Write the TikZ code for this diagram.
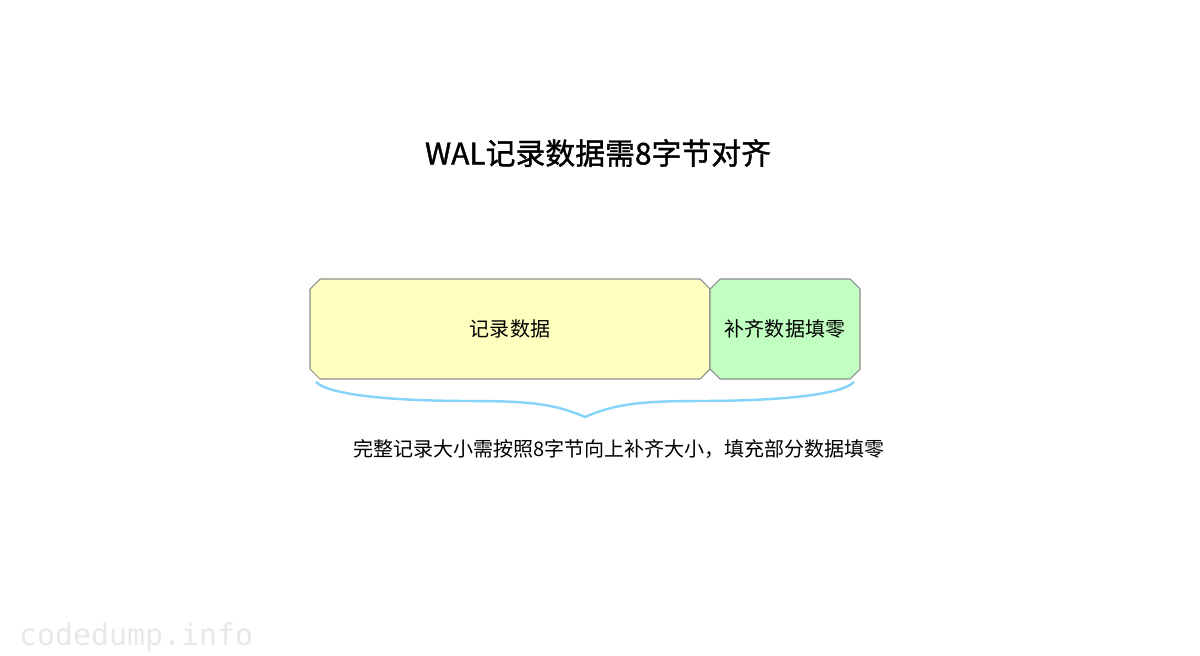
\documentclass[tikz,border=0pt]{standalone}
\usepackage{fontspec}
\setmainfont{Noto Sans CJK SC}
\newfontfamily\titlefont[FakeBold=1.2]{Noto Sans CJK SC}
\newfontfamily\markfont{DejaVu Sans Mono}
\usepackage{tikz}
\usetikzlibrary{shapes.misc}
\definecolor{recyellow}{RGB}{255,255,192}
\definecolor{padgreen}{RGB}{192,255,192}
\definecolor{bracecol}{RGB}{135,212,250}
\tikzset{
	block/.style={chamfered rectangle, chamfered rectangle xsep=0.1cm, chamfered rectangle ysep=0.1cm, draw=gray!90, line width=0.6pt, minimum height=2cm, inner sep=0pt, font=\fontsize{11.4}{13}\selectfont},
}

\begin{document}
\begin{tikzpicture}
	\useasboundingbox (0,0) rectangle (24,-13.1);
	\node (title) at (11.96,-3.06) {\titlefont\fontsize{17}{20}\selectfont WAL记录数据需8字节对齐};
	\node[block, fill=recyellow, minimum width=8cm] (rec) at (10.2,-6.58) {记录数据};
	\node[block, fill=padgreen, minimum width=3cm] (pad) at (15.7,-6.58) {补齐数据填零};
	% brace below both blocks
	\coordinate (bl) at (6.32,-7.64);
	\coordinate (br) at (17.08,-7.64);
	\coordinate (tip) at (11.7,-8.34);
	\draw[bracecol, line width=1.4pt] (bl) .. controls (6.6,-7.92) and (8.0,-8.02) .. (9.4,-8.02) .. controls (10.6,-8.02) and (11.1,-8.08) .. (tip) .. controls (12.3,-8.08) and (12.8,-8.02) .. (14.0,-8.02) .. controls (15.4,-8.02) and (16.8,-7.92) .. (br);
	\node (note) at (12.38,-8.98) {\fontsize{11.4}{13}\selectfont 完整记录大小需按照8字节向上补齐大小，填充部分数据填零};
	\node[anchor=west, text=black!9] (mark) at (0.26,-12.75) {\markfont\fontsize{17}{20}\selectfont codedump.info};
\end{tikzpicture}
\end{document}
